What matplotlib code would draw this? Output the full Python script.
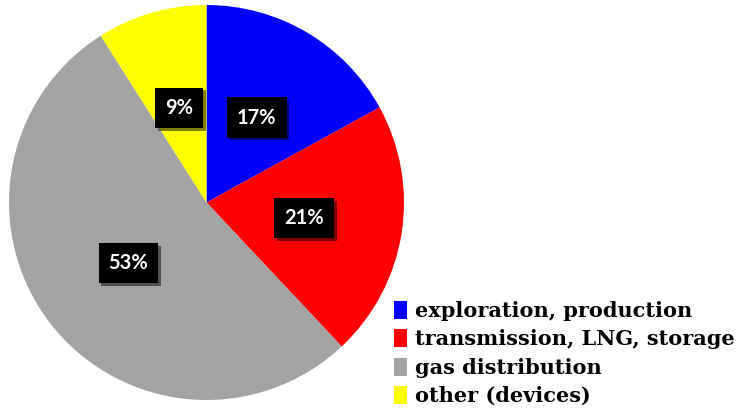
import matplotlib
matplotlib.use("Agg")
import matplotlib.pyplot as plt
import matplotlib.patheffects as pe

# Parts of the pie, clockwise from the top
labels = ["exploration, production", "transmission, LNG, storage",
          "gas distribution", "other (devices)"]
shares = [17, 21, 53, 9]
colors = ["#0000FF", "#FF0000", "#A3A3A3", "#FFFF00"]

W, H = 736, 409
fig = plt.figure(figsize=(W / 100, H / 100), dpi=100)
ax = fig.add_axes([8 / W, 9 / H, 397 / W, 395 / H])

wedges, texts, autotexts = ax.pie(
    shares, colors=colors, startangle=90, counterclock=False,
    autopct=lambda p: "%d%%" % round(p), pctdistance=0.5,
    wedgeprops=dict(linewidth=0),
    textprops=dict(color="white", fontsize=14.5, fontweight="bold", family="Lato"),
)
ax.set_xlim(-1, 1)
ax.set_ylim(-1, 1)
ax.set_aspect("equal")

for t in autotexts:
    t.set_bbox(dict(facecolor="black", edgecolor="none", pad=0.5, boxstyle="square"))
    t.get_bbox_patch().set_path_effects(
        [pe.withSimplePatchShadow(offset=(2, -2), shadow_rgbFace="black", alpha=0.5), pe.Normal()])

# legend in the lower right
fig.legend(wedges, labels, loc="lower left", bbox_to_anchor=(375 / W, -16 / H),
           frameon=False, handlelength=0.65, handleheight=0.95, handletextpad=0.35,
           labelspacing=0.4,
           prop=dict(family="DejaVu Serif", weight="bold", size=15))

fig.savefig("out.png", dpi=100)
